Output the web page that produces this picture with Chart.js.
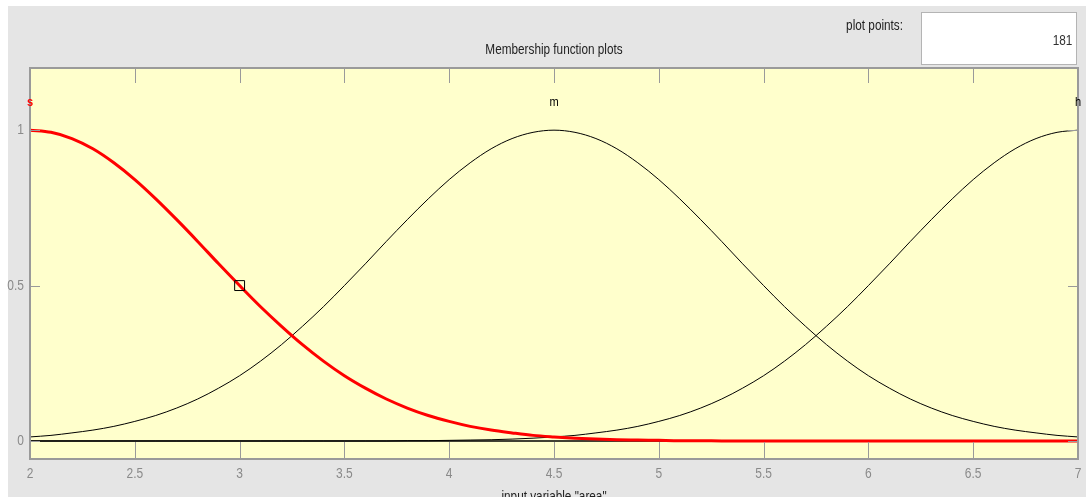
<!DOCTYPE html>
<html>
<head>
<meta charset="utf-8">
<script src="https://cdn.jsdelivr.net/npm/chart.js@4"></script>
<style>
  body { margin: 0; background: #fff; width: 1086px; height: 497px; overflow: hidden; position: relative;
         font-family: 'Liberation Sans', Arial, sans-serif; }
  #panel { position: absolute; left: 8px; top: 6px; width: 1078px; height: 491px; background: #e5e5e5; }
  #pp-label { position: absolute; left: 803px; width: 100px; top: 17px; text-align: right; font-size: 14px; line-height: 16px;
              color: #222; transform: scaleX(0.84); transform-origin: right center; white-space: nowrap; }
  #pp-box { position: absolute; left: 921px; top: 12px; width: 156px; height: 53px; background: #fff;
            border: 1px solid #b4b4b4; box-sizing: border-box; }
  #pp-value { position: absolute; right: 4px; top: 19px; font-size: 14px; line-height: 16px; color: #303030;
              transform: scaleX(0.84); transform-origin: right center; }
  #xlabel { position: absolute; left: 30px; width: 1048px; top: 488px; text-align: center; font-size: 14px; line-height: 16px;
            color: #222; transform: scaleX(0.84); transform-origin: center center; white-space: nowrap; }
  canvas { position: absolute; left: 0; top: 0; }
</style>
</head>
<body>
<div id="panel"></div>
<canvas id="mfChart" width="1086" height="497"></canvas>
<div id="pp-label">plot points:</div>
<div id="pp-box"><span id="pp-value">181</span></div>
<div id="xlabel">input variable "area"</div>
<script>
// Input range, sampled every 0.1
const xValues = [2.0, 2.1, 2.2, 2.3, 2.4, 2.5, 2.6, 2.7, 2.8, 2.9,
                 3.0, 3.1, 3.2, 3.3, 3.4, 3.5, 3.6, 3.7, 3.8, 3.9,
                 4.0, 4.1, 4.2, 4.3, 4.4, 4.5, 4.6, 4.7, 4.8, 4.9,
                 5.0, 5.1, 5.2, 5.3, 5.4, 5.5, 5.6, 5.7, 5.8, 5.9,
                 6.0, 6.1, 6.2, 6.3, 6.4, 6.5, 6.6, 6.7, 6.8, 6.9, 7.0];

// Membership values
const sValues = [1.000, 0.993, 0.973, 0.940, 0.895, 0.841, 0.779, 0.712, 0.642, 0.570,
                 0.500, 0.432, 0.369, 0.310, 0.257, 0.210, 0.170, 0.135, 0.106, 0.082,
                 0.063, 0.047, 0.035, 0.026, 0.018, 0.013, 0.009, 0.006, 0.004, 0.003,
                 0.002, 0.001, 0.001, 0, 0, 0, 0, 0, 0, 0,
                 0, 0, 0, 0, 0, 0, 0, 0, 0, 0, 0];
const mValues = [0.013, 0.018, 0.026, 0.035, 0.047, 0.063, 0.082, 0.106, 0.135, 0.170,
                 0.210, 0.257, 0.310, 0.369, 0.432, 0.500, 0.570, 0.642, 0.712, 0.779,
                 0.841, 0.895, 0.940, 0.973, 0.993, 1.000, 0.993, 0.973, 0.940, 0.895,
                 0.841, 0.779, 0.712, 0.642, 0.570, 0.500, 0.432, 0.369, 0.310, 0.257,
                 0.210, 0.170, 0.135, 0.106, 0.082, 0.063, 0.047, 0.035, 0.026, 0.018, 0.013];
const hValues = [0, 0, 0, 0, 0, 0, 0, 0, 0, 0,
                 0, 0, 0, 0, 0, 0, 0, 0, 0.001, 0.001,
                 0.002, 0.003, 0.004, 0.006, 0.009, 0.013, 0.018, 0.026, 0.035, 0.047,
                 0.063, 0.082, 0.106, 0.135, 0.170, 0.210, 0.257, 0.310, 0.369, 0.432,
                 0.500, 0.570, 0.642, 0.712, 0.779, 0.841, 0.895, 0.940, 0.973, 0.993, 1.000];

const mfNames = ['s', 'm', 'h'];
const mfCenters = [2, 4.5, 7];
const markerX = [3];
const markerY = [0.5];
const xTicks = [2, 2.5, 3, 3.5, 4, 4.5, 5, 5.5, 6, 6.5, 7];
const yTicks = [0, 0.5, 1];
const plotTitle = 'Membership function plots';

const sans = "'Liberation Sans', Arial, sans-serif";

function toPoints(ys) {
    return xValues.map((x, i) => ({ x: x, y: ys[i] }));
}

// squeezed text, the original uses a narrow face
function narrowText(ctx, text, x, y, sx) {
    ctx.save();
    ctx.translate(x, y);
    ctx.scale(sx, 1);
    ctx.fillText(text, 0, 0);
    ctx.restore();
}

// Yellow plot box, inner ticks, labels
const decor = {
    id: 'decor',
    beforeDraw(chart) {
        const { ctx, chartArea: a } = chart;
        ctx.save();
        ctx.fillStyle = '#ffffcc';
        ctx.fillRect(a.left, a.top, a.right - a.left, a.bottom - a.top);
        ctx.restore();
    },
    afterDraw(chart) {
        const { ctx, chartArea: a, scales: { x, y } } = chart;
        ctx.save();
        const seg = (x1, y1, x2, y2) => { ctx.beginPath(); ctx.moveTo(x1, y1); ctx.lineTo(x2, y2); ctx.stroke(); };

        ctx.strokeStyle = '#9a9a9a';
        ctx.lineWidth = 1;
        xTicks.forEach(v => {
            const px = Math.round(x.getPixelForValue(v)) + 0.5;
            seg(px, a.top, px, a.top + 15);
            seg(px, a.bottom - 17, px, a.bottom);
        });
        yTicks.forEach(v => {
            const py = Math.round(y.getPixelForValue(v)) + 0.5;
            seg(a.left, py, a.left + 10, py);
            seg(a.right - 10, py, a.right, py);
        });
        ctx.lineWidth = 2;
        ctx.strokeRect(a.left, a.top, a.right - a.left, a.bottom - a.top);

        // title
        ctx.fillStyle = '#222';
        ctx.font = '14px ' + sans;
        ctx.textAlign = 'center';
        ctx.textBaseline = 'middle';
        narrowText(ctx, plotTitle, (a.left + a.right) / 2, 50, 0.84);

        // tick labels
        ctx.fillStyle = '#8a8a8a';
        ctx.font = '15px ' + sans;
        xTicks.forEach(v => narrowText(ctx, String(v), x.getPixelForValue(v), a.bottom + 15, 0.8));
        ctx.textAlign = 'right';
        yTicks.forEach(v => narrowText(ctx, String(v), a.left - 6, y.getPixelForValue(v), 0.8));

        // membership function names
        ctx.textAlign = 'center';
        mfNames.forEach((name, i) => {
            ctx.fillStyle = i === 0 ? '#ff0000' : '#000';
            ctx.font = (i === 0 ? 'bold ' : '') + '13px ' + sans;
            narrowText(ctx, name, x.getPixelForValue(mfCenters[i]), y.getPixelForValue(1.09), 0.85);
        });
        ctx.restore();
    }
};

new Chart(document.getElementById('mfChart'), {
    type: 'line',
    data: {
        datasets: [
            { label: 'marker', data: markerX.map((x, i) => ({ x: x, y: markerY[i] })), showLine: false,
              pointStyle: 'rect', pointRadius: 7, pointBorderColor: '#000', pointBorderWidth: 1,
              pointBackgroundColor: 'rgba(0,0,0,0)', order: 0 },
            { label: mfNames[0], data: toPoints(sValues), borderColor: '#ff0000', borderWidth: 3,
              pointRadius: 0, cubicInterpolationMode: 'monotone', order: 1 },
            { label: mfNames[1], data: toPoints(mValues), borderColor: '#000', borderWidth: 1,
              pointRadius: 0, cubicInterpolationMode: 'monotone', order: 2 },
            { label: mfNames[2], data: toPoints(hValues), borderColor: '#000', borderWidth: 1,
              pointRadius: 0, cubicInterpolationMode: 'monotone', order: 3 },
            { label: 'zero', data: [{ x: xValues[0], y: 0 }, { x: xValues[xValues.length - 1], y: 0 }],
              borderColor: '#000', borderWidth: 1.5, pointRadius: 0, order: 4 }
        ]
    },
    options: {
        responsive: false,
        animation: false,
        devicePixelRatio: 1,
        layout: { padding: { left: 30, right: 8, top: 68, bottom: 38 } },
        plugins: {
            legend: { display: false },
            tooltip: { enabled: false },
            title: { display: false }
        },
        scales: {
            x: { type: 'linear', min: 2, max: 7, display: false },
            y: { min: -0.058, max: 1.2, display: false }
        }
    },
    plugins: [decor]
});
</script>
</body>
</html>
